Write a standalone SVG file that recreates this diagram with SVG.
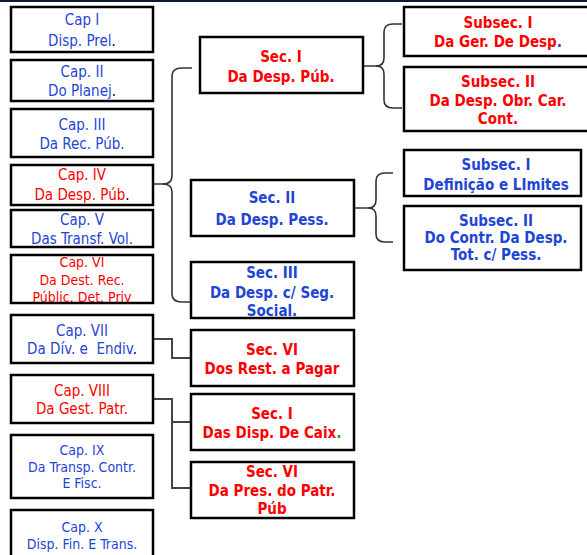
<svg xmlns="http://www.w3.org/2000/svg" width="587" height="555" viewBox="0 0 587 555">
<style>
.box{fill:#fff;stroke:#000;stroke-width:2.5}
.t{font-family:"DejaVu Sans Condensed","DejaVu Sans",sans-serif;font-size:15px;text-anchor:middle}
.b{font-weight:bold}
.bl{fill:#1f45d6}
.rd{fill:#ff0000}
.con{fill:none;stroke:#444;stroke-width:2}
.br{fill:none;stroke:#333;stroke-width:1.6}
</style>
<rect x="0" y="0" width="587" height="555" fill="#fff"/>
<rect x="0" y="0" width="587" height="2" fill="#0b1a33"/>
<g id="connectors">
<path class="br" d="M153,184 L163,184 Q172,184 172,176 L172,76 Q172,68 182,68 L192,68"/>
<path class="br" d="M163,184 Q172,184 172,192 L172,294 Q172,302 182,302 L190,302"/>
<path class="br" d="M364,66 L376,66 Q384,66 384,58 L384,32 Q384,24 393,24 L402,24"/>
<path class="br" d="M376,66 Q384,66 384,74 L384,100 Q384,108 393,108 L402,108"/>
<path class="br" d="M355,208 L368,208 Q376,208 376,200 L376,181 Q376,173 385,173 L393,173"/>
<path class="br" d="M368,208 Q376,208 376,216 L376,234 Q376,242 385,242 L393,242"/>
<path class="con" d="M153,339 L172,339 L172,358 L191,358"/>
<path class="con" d="M153,399 L172,399 L172,488 L191,488 M172,422 L191,422"/>
</g>
<g id="cap1"><rect class="box" x="11" y="7" width="142" height="45"/><text class="t bl" x="82" y="25">Cap I</text><text class="t bl" x="82" y="46">Disp. Prel<tspan fill="#000">.</tspan></text></g>
<g id="cap2"><rect class="box" x="11" y="60" width="142" height="41"/><text class="t bl" x="82" y="77">Cap. II</text><text class="t bl" x="82" y="96">Do Planej<tspan fill="#000">.</tspan></text></g>
<g id="cap3"><rect class="box" x="11" y="109" width="142" height="48"/><text class="t bl" x="82" y="130">Cap. III</text><text class="t bl" x="82" y="149">Da Rec. Púb.</text></g>
<g id="cap4"><rect class="box" x="11" y="165" width="142" height="40"/><text class="t rd" x="82" y="180">Cap. IV</text><text class="t rd" x="82" y="200">Da Desp. Púb<tspan fill="#000">.</tspan></text></g>
<g id="cap5"><rect class="box" x="11" y="210" width="142" height="37"/><text class="t bl" x="82" y="225">Cap. V</text><text class="t bl" x="82" y="244">Das Transf. Vol.</text></g>
<g id="cap6"><rect class="box" x="11" y="255" width="142" height="48"/><text class="t rd" x="82" y="267" style="font-size:14px">Cap. VI</text><text class="t rd" x="82" y="285" style="font-size:14px">Da Dest. Rec.</text><text class="t rd" x="82" y="302" style="font-size:14px">Públic. Det. Priv</text></g>
<g id="cap7"><rect class="box" x="11" y="315" width="142" height="48"/><text class="t bl" x="82" y="336">Cap. VII</text><text class="t bl" x="82" y="354" xml:space="preserve">Da Dív. e  Endiv<tspan fill="#000">.</tspan></text></g>
<g id="cap8"><rect class="box" x="11" y="375" width="142" height="48"/><text class="t rd" x="82" y="396">Cap. VIII</text><text class="t rd" x="82" y="414">Da Gest. Patr.</text></g>
<g id="cap9"><rect class="box" x="11" y="435" width="142" height="63"/><text class="t bl" x="82" y="455" style="font-size:14px">Cap. IX</text><text class="t bl" x="82" y="472" style="font-size:14px">Da Transp. Contr.</text><text class="t bl" x="82" y="488" style="font-size:14px">E Fisc.</text></g>
<g id="cap10"><rect class="box" x="11" y="510" width="142" height="50"/><text class="t bl" x="82" y="532" style="font-size:14px">Cap. X</text><text class="t bl" x="82" y="549" style="font-size:14px">Disp. Fin. E Trans.</text></g>
<g id="sec1"><rect class="box" x="200" y="37" width="163" height="56"/><text class="t b rd" x="281" y="62">Sec. I</text><text class="t b rd" x="281" y="82">Da Desp. Púb.</text></g>
<g id="sec2"><rect class="box" x="191" y="180" width="163" height="56"/><text class="t b bl" x="272" y="203">Sec. II</text><text class="t b bl" x="272" y="225">Da Desp. Pess.</text></g>
<g id="sec3"><rect class="box" x="191" y="262" width="163" height="56"/><text class="t b bl" x="272" y="278">Sec. III</text><text class="t b bl" x="272" y="298">Da Desp. c/ Seg.</text><text class="t b bl" x="272" y="316">Social.</text></g>
<g id="sec6a"><rect class="box" x="191" y="330" width="163" height="56"/><text class="t b rd" x="272" y="355">Sec. VI</text><text class="t b rd" x="272" y="374">Dos Rest. a Pagar</text></g>
<g id="sec1b"><rect class="box" x="191" y="394" width="163" height="56"/><text class="t b rd" x="272" y="419">Sec. I</text><text class="t b rd" x="272" y="438">Das Disp. De Caix<tspan fill="#1a9a1a">.</tspan></text></g>
<g id="sec6b"><rect class="box" x="191" y="462" width="163" height="56"/><text class="t b rd" x="272" y="477">Sec. VI</text><text class="t b rd" x="272" y="496">Da Pres. do Patr.</text><text class="t b rd" x="272" y="514">Púb</text></g>
<g id="sub1a"><rect class="box" x="404" y="7" width="190" height="49"/><text class="t b rd" x="498" y="28">Subsec. I</text><text class="t b rd" x="498" y="47">Da Ger. De Desp<tspan fill="#1f45d6">.</tspan></text></g>
<g id="sub2a"><rect class="box" x="404" y="67" width="190" height="64"/><text class="t b rd" x="498" y="87">Subsec. II</text><text class="t b rd" x="498" y="106">Da Desp. Obr. Car.</text><text class="t b rd" x="498" y="124">Cont.</text></g>
<g id="sub1b"><rect class="box" x="404" y="150" width="177" height="46"/><text class="t b bl" x="496" y="170">Subsec. I</text><text class="t b bl" x="496" y="190">Definição e LImites</text></g>
<g id="sub2b"><rect class="box" x="404" y="206" width="177" height="64"/><text class="t b bl" x="496" y="226">Subsec. II</text><text class="t b bl" x="496" y="243">Do Contr. Da Desp.</text><text class="t b bl" x="496" y="260">Tot. c/ Pess.</text></g>
</svg>
